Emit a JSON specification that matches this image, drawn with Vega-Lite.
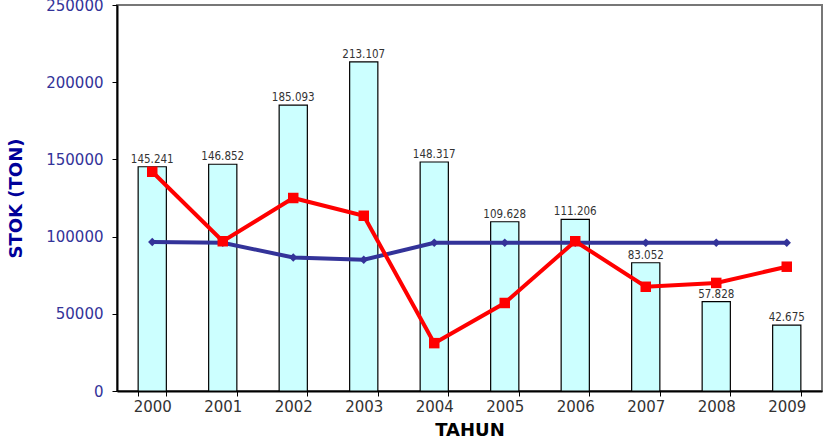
{
  "$schema": "https://vega.github.io/schema/vega-lite/v6.json",
  "width": 705,
  "height": 386,
  "autosize": {"type": "none"},
  "padding": {"left": 117, "top": 5, "right": 3, "bottom": 53},
  "config": {
    "locale": {"number": {"decimal": ",", "thousands": ".", "grouping": [3], "currency": ["", ""]}},
    "view": {"stroke": "#777777", "strokeWidth": 2},
    "font": "DejaVu Sans"
  },
  "data": {
    "values": [
      {"tahun": "2000", "stok": 145241, "merah": 142000, "biru": 96500},
      {"tahun": "2001", "stok": 146852, "merah": 97000, "biru": 96000},
      {"tahun": "2002", "stok": 185093, "merah": 125000, "biru": 86500},
      {"tahun": "2003", "stok": 213107, "merah": 113500, "biru": 85000},
      {"tahun": "2004", "stok": 148317, "merah": 31000, "biru": 96000},
      {"tahun": "2005", "stok": 109628, "merah": 57000, "biru": 96000},
      {"tahun": "2006", "stok": 111206, "merah": 97000, "biru": 96000},
      {"tahun": "2007", "stok": 83052, "merah": 67500, "biru": 96000},
      {"tahun": "2008", "stok": 57828, "merah": 70000, "biru": 96000},
      {"tahun": "2009", "stok": 42675, "merah": 80500, "biru": 96000}
    ]
  },
  "encoding": {
    "x": {
      "field": "tahun", "type": "ordinal",
      "scale": {"paddingInner": 0.6, "paddingOuter": 0.3},
      "axis": {
        "title": "TAHUN", "labelAngle": 0, "tickBand": "extent",
        "domainColor": "#000000", "domainWidth": 2, "tickColor": "#000000", "tickSize": 5,
        "labelFont": "DejaVu Sans", "labelFontSize": 15, "labelColor": "#333333", "labelPadding": 3,
        "titleFont": "DejaVu Sans", "titleFontSize": 18, "titleFontWeight": "bold", "titleColor": "#000000", "titlePadding": 7
      }
    }
  },
  "layer": [
    {
      "mark": {"type": "bar", "fill": "#CCFFFF", "stroke": "#000000", "strokeWidth": 1.2},
      "encoding": {
        "y": {
          "field": "stok", "type": "quantitative",
          "scale": {"domain": [0, 250000], "nice": false},
          "axis": {
            "title": "STOK (TON)", "values": [0, 50000, 100000, 150000, 200000, 250000], "format": "d",
            "grid": false, "domainColor": "#000000", "domainWidth": 2, "tickColor": "#000000", "tickSize": 5,
            "labelFont": "DejaVu Sans", "labelFontSize": 15, "labelColor": "#333399", "labelPadding": 9,
            "titleFont": "DejaVu Sans", "titleFontSize": 18, "titleFontWeight": "bold", "titleColor": "#000099", "titlePadding": 20
          }
        }
      }
    },
    {
      "mark": {"type": "text", "dy": -7, "font": "DejaVu Sans Condensed", "fontSize": 11.5, "color": "#333333"},
      "encoding": {
        "y": {"field": "stok", "type": "quantitative"},
        "text": {"field": "stok", "type": "quantitative", "format": ",d"}
      }
    },
    {
      "mark": {"type": "line", "color": "#333399", "strokeWidth": 4, "point": {"shape": "diamond", "size": 70, "filled": true, "color": "#333399"}},
      "encoding": {"y": {"field": "biru", "type": "quantitative"}}
    },
    {
      "mark": {"type": "line", "color": "#FF0000", "strokeWidth": 4, "point": {"shape": "square", "size": 110, "filled": true, "color": "#FF0000"}},
      "encoding": {"y": {"field": "merah", "type": "quantitative"}}
    }
  ]
}
